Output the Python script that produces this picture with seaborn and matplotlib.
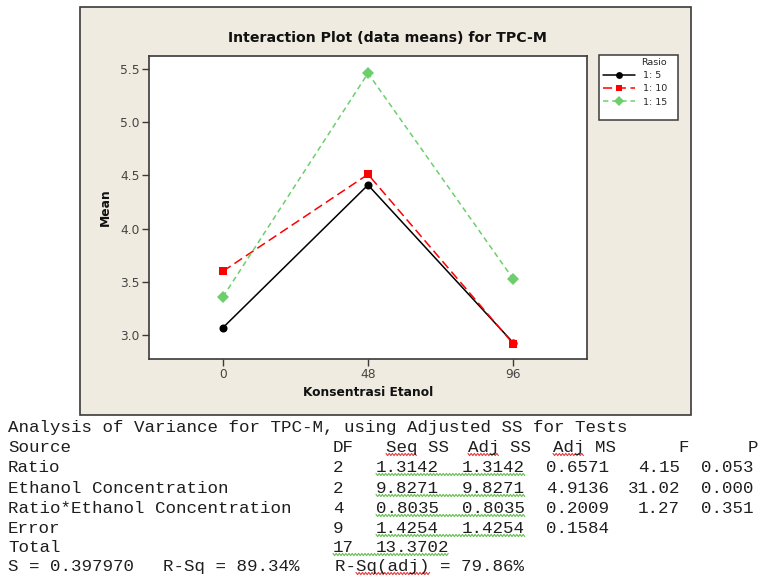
import numpy as np
import pandas as pd
import seaborn as sns
import matplotlib.pyplot as plt
from matplotlib.patches import Rectangle
from matplotlib.lines import Line2D

# data
konsentrasi = [0, 48, 96]
rasio = ["1: 5", "1: 10", "1: 15"]
mean_1_5 = [3.07, 4.41, 2.93]
mean_1_10 = [3.60, 4.51, 2.92]
mean_1_15 = [3.36, 5.46, 3.53]
y_ticks = [3.0, 3.5, 4.0, 4.5, 5.0, 5.5]

# ANOVA output below the plot
anova_title = "Analysis of Variance for TPC-M, using Adjusted SS for Tests"
anova_header = ["Source", "DF", "Seq SS", "Adj SS", "Adj MS", "F", "P"]
anova_source = ["Ratio", "Ethanol Concentration", "Ratio*Ethanol Concentration", "Error", "Total"]
anova_df = ["2", "2", "4", "9", "17"]
anova_seq_ss = ["1.3142", "9.8271", "0.8035", "1.4254", "13.3702"]
anova_adj_ss = ["1.3142", "9.8271", "0.8035", "1.4254", ""]
anova_adj_ms = ["0.6571", "4.9136", "0.2009", "0.1584", ""]
anova_f = ["4.15", "31.02", "1.27", "", ""]
anova_p = ["0.053", "0.000", "0.351", "", ""]
anova_summary = ["S = 0.397970", "R-Sq = 89.34%", "R-Sq(adj) = 79.86%"]

W, H = 760, 577
sns.set_style("white")
plt.rcParams["font.family"] = ["DejaVu Sans"]

df = pd.DataFrame({
    "Konsentrasi": konsentrasi * 3,
    "Rasio": np.repeat(rasio, len(konsentrasi)),
    "Mean": mean_1_5 + mean_1_10 + mean_1_15,
})

fig = plt.figure(figsize=(W / 100, H / 100), dpi=100)
fig.patch.set_facecolor("white")

def fx(px):
    return px / W

def fy(py):
    return 1 - py / H

# grey Minitab panel
fig.add_artist(Rectangle((fx(80), fy(415)), fx(691) - fx(80), fy(7) - fy(415),
                         transform=fig.transFigure, facecolor="#EFEBE0",
                         edgecolor="#3a3a3a", linewidth=1.2, zorder=-1))

ax = fig.add_axes([fx(149), fy(359), fx(587) - fx(149), fy(56) - fy(359)])
ax.set_facecolor("white")

sns.lineplot(data=df, x="Konsentrasi", y="Mean", hue="Rasio", style="Rasio",
             hue_order=rasio, style_order=rasio,
             palette=["black", "#FF0000", "#6CCF6C"],
             markers=["o", "s", "D"], dashes=["", (6, 3), (3.5, 2.5)],
             markersize=5.8, markeredgewidth=0, linewidth=1.1, ax=ax)

ax.set_xlim(-24.5, 120.5)
ax.set_ylim(2.775, 5.622)
ax.set_xticks(konsentrasi)
ax.set_xticklabels([str(k) for k in konsentrasi])
ax.set_yticks(y_ticks)
ax.set_yticklabels([f"{v:.1f}" for v in y_ticks])
for s in ax.spines.values():
    s.set_color("#3a3a3a")
    s.set_linewidth(1.2)
ax.tick_params(direction="out", length=5, width=1, color="#3a3a3a",
               labelcolor="#444444", labelsize=8.8, pad=1.5,
               bottom=True, left=True)

ax.set_xlabel("Konsentrasi Etanol", fontweight="bold", fontsize=8.8, color="#111111")
ax.set_ylabel("Mean", fontweight="bold", fontsize=8.8, color="#111111")
ax.xaxis.label.set_va("center")
ax.yaxis.label.set_va("center")
ax.xaxis.set_label_coords(0.5, (359 - 392) / 303)
ax.yaxis.set_label_coords((105 - 149) / 438, 0.5)

fig.text(fx(387), fy(38), "Interaction Plot (data means) for TPC-M",
         ha="center", va="center", fontweight="bold", fontsize=10.2, color="#111111")

# legend
handles, labels = ax.get_legend_handles_labels()
ax.legend(handles, labels, title="Rasio", loc="upper left",
          bbox_to_anchor=(fx(601), fy(56)), bbox_transform=fig.transFigure,
          frameon=False, fontsize=6.8, title_fontsize=6.8, alignment="right",
          handlelength=3.4, handletextpad=0.8, labelspacing=0.45,
          borderpad=0.2, borderaxespad=0, markerscale=0.85)
fig.add_artist(Rectangle((fx(599), fy(120)), fx(678) - fx(599), fy(55) - fy(120),
                         transform=fig.transFigure, facecolor="white",
                         edgecolor="#3a3a3a", linewidth=1.1, zorder=0.5))
ax.set_zorder(1)

# ANOVA text (monospace session output)
mono = dict(family="Liberation Mono", fontsize=12.6, color="#1e1e1e", va="baseline")
baselines = [432, 452, 472, 493, 513, 533, 552, 571]

fig.text(fx(8), fy(baselines[0]), anova_title, **mono)
head_x = [8, 333, 386, 468, 553, 678, 748]
head_t = []
for x, s in zip(head_x, anova_header):
    head_t.append(fig.text(fx(x), fy(baselines[1]), s, **mono))

row_t = []
for i in range(len(anova_source)):
    yb = fy(baselines[2 + i])
    t_src = fig.text(fx(8), yb, anova_source[i], **mono)
    t_df = fig.text(fx(333), yb, anova_df[i], **mono)
    t_seq = fig.text(fx(376), yb, anova_seq_ss[i], **mono)
    t_adj = fig.text(fx(462), yb, anova_adj_ss[i], **mono)
    fig.text(fx(546), yb, anova_adj_ms[i], **mono)
    fig.text(fx(680), yb, anova_f[i], ha="right", **mono)
    fig.text(fx(701), yb, anova_p[i], **mono)
    row_t.append((t_df, t_seq, t_adj))

sum_x = [8, 163, 335]
sum_t = []
for x, s in zip(sum_x, anova_summary):
    sum_t.append(fig.text(fx(x), fy(baselines[7]), s, **mono))

# spell-check squiggles of the word processor screenshot
fig.canvas.draw()
rend = fig.canvas.get_renderer()

def extent(t, start=None, end=None):
    bb = t.get_window_extent(rend)
    s = t.get_text()
    cw = bb.width / max(len(s), 1)
    a = 0 if start is None else start
    b = len(s) if end is None else end
    return bb.x0 + a * cw, bb.x0 + b * cw

def squiggle(x0, x1, t, color):
    base = t.get_position()[1] * H - 2.5
    xs = np.arange(x0, x1 + 0.1, 1.6)
    ys = base + 1.1 * np.where(np.arange(len(xs)) % 2 == 0, 1, -1)
    fig.add_artist(Line2D(xs / W, ys / H, transform=fig.transFigure,
                          color=color, linewidth=0.8))

green = "#62BF4F"
red = "#E23B3B"
for i, (t_df, t_seq, t_adj) in enumerate(row_t):
    if anova_adj_ss[i]:
        squiggle(extent(t_seq)[0], extent(t_adj)[1], t_seq, green)
    else:
        squiggle(extent(t_df)[0], extent(t_seq)[1], t_seq, green)
for t in head_t[2:5]:
    x0, x1 = extent(t, 0, 3)
    squiggle(x0, x1, t, red)
x0, x1 = extent(sum_t[2], 2, 9)
squiggle(x0, x1, sum_t[2], red)

fig.savefig("out.png", dpi=100)
